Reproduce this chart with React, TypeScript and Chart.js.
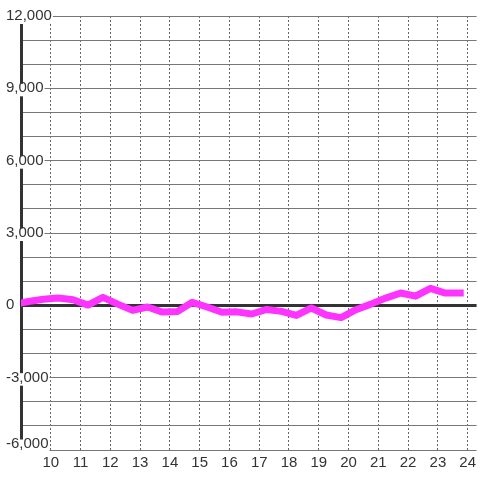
import React, { useEffect, useRef } from "react";
import { Chart, registerables } from "chart.js";

Chart.register(...registerables);

// Hours of the day (x values) and measured values (y)
const hours = [
  8.75, 9.25, 9.75, 10.25, 10.75, 11.25, 11.75, 12.25, 12.75, 13.25, 13.75,
  14.25, 14.75, 15.25, 15.75, 16.25, 16.75, 17.25, 17.75, 18.25, 18.75, 19.25,
  19.75, 20.25, 20.75, 21.25, 21.75, 22.25, 22.75, 23.25, 23.75,
];
const values = [
  30, 160, 250, 300, 230, 10, 330, 50, -210, -70, -280,
  -260, 125, -70, -290, -270, -360, -170, -250, -420, -110, -400,
  -510, -180, 50, 300, 510, 380, 700, 510, 510,
];
const xTickValues = [10, 11, 12, 13, 14, 15, 16, 17, 18, 19, 20, 21, 22, 23, 24];
const xMin = 9;
const xMax = 24.3;
const yMin = -6000;
const yMax = 12000;
const yGridStep = 1000;
const yLabelStep = 3000;

// Keeps the lowest y label above the bottom edge of the plot, as in the reference
const liftBottomLabel = {
  id: "liftBottomLabel",
  beforeDraw(chart: any) {
    const s = chart.scales.y;
    if (!s) return;
    const items = s.getLabelItems();
    const idx = s.ticks.findIndex((t: any) => t.value === yMin);
    const it = items[idx];
    if (!it || it._lifted) return;
    const [tx, ty] = it.options.translation;
    it.options = { ...it.options, translation: [tx, ty - 6] };
    it._lifted = true;
  },
};

export default function App() {
  const ref = useRef<HTMLCanvasElement>(null);

  useEffect(() => {
    const canvas = ref.current;
    if (!canvas) return;
    Chart.defaults.font.family = "'Liberation Sans', Arial, sans-serif";
    const chart = new Chart(canvas, {
      type: "line",
      data: {
        datasets: [
          {
            data: hours.map((h, i) => ({ x: h, y: values[i] })),
            borderColor: "#ff33ff",
            backgroundColor: "#ff33ff",
            borderWidth: 7,
            pointRadius: 0,
            tension: 0,
            fill: false,
            borderJoinStyle: "round",
            borderCapStyle: "square",
          },
        ],
      },
      plugins: [liftBottomLabel],
      options: {
        animation: false,
        responsive: false,
        events: [],
        layout: { padding: { left: 6, top: 16, right: 0, bottom: 4 } },
        plugins: {
          legend: { display: false },
          tooltip: { enabled: false },
        },
        scales: {
          x: {
            type: "linear",
            min: xMin,
            max: xMax,
            afterBuildTicks: (s: any) => {
              s.ticks = xTickValues.map((v) => ({ value: v }));
            },
            ticks: {
              stepSize: 1,
              autoSkip: false,
              maxRotation: 0,
              padding: 4,
              color: "#333",
              font: { size: 15 },
              callback: (v: any) => String(v),
            },
            grid: { color: "#666", lineWidth: 1, drawTicks: false, z: -1 },
            border: { display: false, dash: [2, 2] },
          },
          y: {
            type: "linear",
            min: yMin,
            max: yMax,
            afterFit: (s: any) => {
              s.width = 15;
            },
            ticks: {
              stepSize: yGridStep,
              autoSkip: false,
              mirror: true,
              crossAlign: "near",
              padding: -15,
              color: "#333",
              font: { size: 15, lineHeight: 1 },
              callback: (v: any) => {
                const n = Number(v);
                if (n % yLabelStep !== 0) return "";
                return n.toLocaleString("en-US");
              },
              showLabelBackdrop: (c: any) => !!c.tick && c.tick.value % yLabelStep === 0,
              backdropColor: "#ffffff",
              backdropPadding: { top: -3, bottom: 0.5, left: 2, right: 1 },
            },
            grid: {
              drawTicks: false,
              color: (c: any) => (c.tick && c.tick.value === 0 ? "#333" : "#777"),
              lineWidth: (c: any) => (c.tick && c.tick.value === 0 ? 3 : 1),
            },
            border: { display: true, color: "#333", width: 3 },
          },
        },
      },
    } as any);
    return () => chart.destroy();
  }, []);

  return (
    <div style={{ position: "absolute", left: 0, top: 0, width: 480, height: 480 }}>
      <canvas ref={ref} width={480} height={480} />
    </div>
  );
}
